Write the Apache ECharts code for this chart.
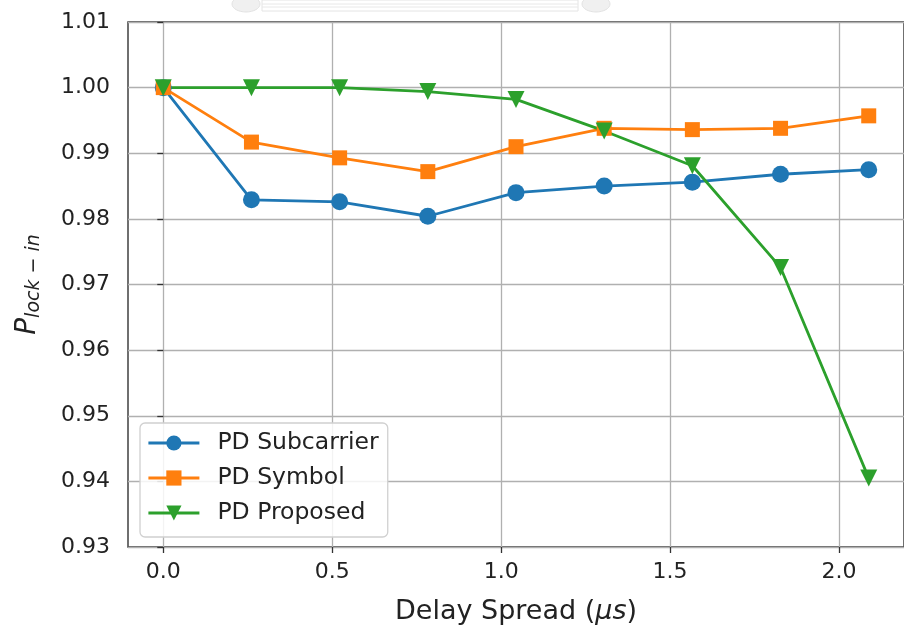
<!DOCTYPE html>
<html>
<head>
<meta charset="utf-8">
<script src="https://cdn.jsdelivr.net/npm/echarts@6/dist/echarts.min.js"></script>
<style>html,body{margin:0;padding:0;background:#fff}#c{width:904px;height:632px}</style>
</head>
<body>
<div id="c"></div>
<script>
const delaySpread = [0, 0.261, 0.522, 0.783, 1.044, 1.305, 1.566, 1.827, 2.088];
const pdSubcarrier = [1.0000, 0.9829, 0.9826, 0.9804, 0.9840, 0.9850, 0.9856, 0.9868, 0.9875];
const pdSymbol     = [1.0000, 0.9917, 0.9893, 0.9872, 0.9910, 0.9938, 0.9936, 0.9938, 0.9957];
const pdProposed   = [1.0000, 1.0000, 1.0000, 0.9994, 0.9982, 0.9934, 0.9881, 0.9726, 0.9405];
const xTicks = [0, 0.5, 1.0, 1.5, 2.0];
const seriesNames = ['PD Subcarrier', 'PD Symbol', 'PD Proposed'];

const FONT = 'DejaVu Sans';
const TXT = '#222';
const chart = echarts.init(document.getElementById('c'), null, {renderer: 'canvas'});
const pairs = arr => delaySpread.map((x, i) => [x, arr[i]]);
const mk = (name, data, color, symbol, rot) => ({
  name, type: 'line', data: pairs(data), color,
  symbol, symbolSize: symbol === 'rect' ? 15 : 17, symbolRotate: rot || 0,
  lineStyle: {width: 2.8, color}, itemStyle: {color},
  showSymbol: true, animation: false, z: 3
});
chart.setOption({
  animation: false,
  textStyle: {fontFamily: FONT, color: TXT},
  grid: {left: 128, top: 22, width: 788, height: 525, show: true,
         borderColor: '#333', borderWidth: 1.4, backgroundColor: 'transparent'},
  xAxis: {
    type: 'value', min: -0.1044, max: 2.1924,
    name: 'Delay Spread ({i|μs})', nameLocation: 'middle', nameGap: 51,
    nameTextStyle: {fontSize: 27, fontFamily: FONT, color: TXT,
      rich: {i: {fontSize: 27, fontStyle: 'italic', fontFamily: FONT, color: TXT}}},
    axisLine: {show: false},
    axisTick: {show: true, length: 6, lineStyle: {color: '#333', width: 1.3}, customValues: xTicks},
    axisLabel: {fontSize: 22, color: TXT, margin: 14, customValues: xTicks,
      formatter: v => v.toFixed(1)},
    splitLine: {show: true, lineStyle: {color: '#b0b0b0', width: 1.3}}
  },
  yAxis: {
    type: 'value', min: 0.93, max: 1.01, interval: 0.01,
    name: '{p|P}{s|lock − in}', nameLocation: 'middle', nameRotate: 90, nameGap: 84,
    nameTextStyle: {color: TXT, rich: {
      p: {fontSize: 28, fontStyle: 'italic', fontFamily: FONT, color: TXT, lineHeight: 32},
      s: {fontSize: 19, fontStyle: 'italic', fontFamily: FONT, color: TXT, lineHeight: 19, padding: [14, 0, 0, 0], verticalAlign: 'bottom'}
    }},
    axisLine: {show: false},
    axisTick: {show: true, length: 6, lineStyle: {color: '#333', width: 1.3}},
    axisLabel: {fontSize: 22, color: TXT, margin: 18, formatter: v => v.toFixed(2)},
    splitLine: {show: true, lineStyle: {color: '#b0b0b0', width: 1.3}}
  },
  legend: {
    orient: 'vertical', left: 140, top: 423,
    padding: [8, 9, 12, 7], itemGap: 11, itemWidth: 51, itemHeight: 19,
    backgroundColor: 'rgba(255,255,255,0.85)', borderColor: '#d0d0d0', borderWidth: 1.3, borderRadius: 5,
    lineStyle: {width: 2.8},
    textStyle: {fontSize: 23.5, color: TXT, fontFamily: FONT, lineHeight: 21, padding: [0, 0, 0, 13]},
    data: seriesNames
  },
  series: [
    mk(seriesNames[0], pdSubcarrier, '#1f77b4', 'circle'),
    mk(seriesNames[1], pdSymbol, '#ff7f0e', 'rect'),
    mk(seriesNames[2], pdProposed, '#2ca02c', 'triangle', 180)
  ],
  graphic: [
    {type: 'rect', shape: {x: 262, y: 0, width: 316, height: 11}, style: {fill: 'none', stroke: '#e4e4e4', lineWidth: 1}},
    {type: 'line', shape: {x1: 262, y1: 4, x2: 578, y2: 4}, style: {stroke: '#e8e8e8', lineWidth: 1}},
    {type: 'line', shape: {x1: 262, y1: 7, x2: 578, y2: 7}, style: {stroke: '#e8e8e8', lineWidth: 1}},
    {type: 'ellipse', shape: {cx: 246, cy: 4, rx: 14, ry: 8}, style: {fill: '#f0f0f0', stroke: '#e2e2e2', lineWidth: 1}},
    {type: 'ellipse', shape: {cx: 596, cy: 4, rx: 14, ry: 8}, style: {fill: '#f0f0f0', stroke: '#e2e2e2', lineWidth: 1}}
  ]
});
</script>
</body>
</html>
